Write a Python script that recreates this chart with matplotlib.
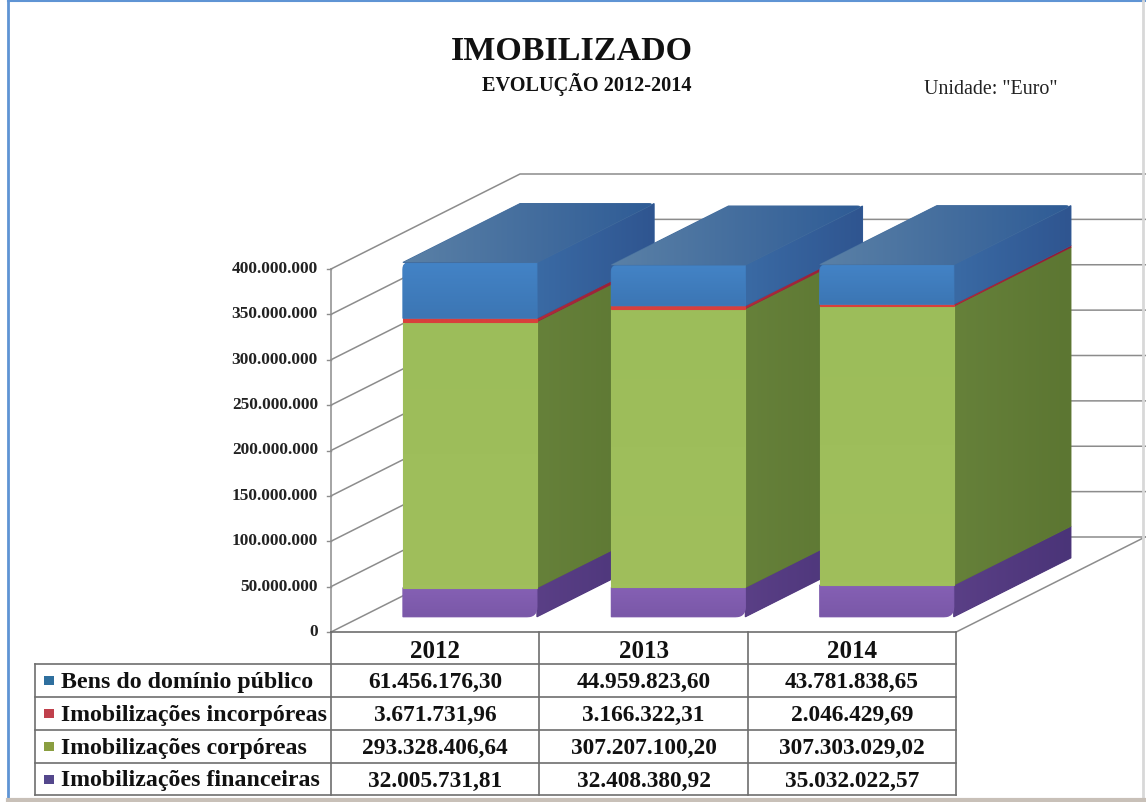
import matplotlib
matplotlib.use("Agg")
import matplotlib.pyplot as plt
import numpy as np
from matplotlib.colors import LinearSegmentedColormap
from matplotlib.patches import Polygon, Rectangle

plt.rcParams['font.family'] = ['Liberation Serif', 'DejaVu Serif']

years = ["2012", "2013", "2014"]
series = ["Bens do domínio público", "Imobilizações incorpóreas",
          "Imobilizações corpóreas", "Imobilizações financeiras"]
publico = [61456176.30, 44959823.60, 43781838.65]
incorporeas = [3671731.96, 3166322.31, 2046429.69]
corporeas = [293328406.64, 307207100.20, 307303029.02]
financeiras = [32005731.81, 32408380.92, 35032022.57]
axis_ticks = [0, 50000000, 100000000, 150000000, 200000000,
              250000000, 300000000, 350000000, 400000000]

# page geometry of the fake 3d box, in pixels
X0, Y0 = 331, 633
CAT_W = 208.4
PX_PER_VAL = 363 / 400000000
DEPTH_X, DEPTH_Y = 189, 95
BAR_LEFT, BAR_W = 0.2, 0.643
Z0, Z1 = 0.16, 0.78


def project(x, v, z):
    return (X0 + x * CAT_W + z * DEPTH_X, Y0 - v * PX_PER_VAL - z * DEPTH_Y)


def fmt_int(v):
    return f"{v:,.0f}".replace(",", ".")


def fmt_val(v):
    return f"{v:,.2f}".replace(",", "#").replace(".", ",").replace("#", ".")


def rounded(pts, corner, r=7):
    # swap one corner of a polygon for a short curve
    pts = [np.array(p, dtype=float) for p in pts]
    n = len(pts)
    c = pts[corner]
    a = pts[corner - 1]
    b = pts[(corner + 1) % n]
    a = c + (a - c) / np.linalg.norm(a - c) * r
    b = c + (b - c) / np.linalg.norm(b - c) * r
    curve = [(1 - t) ** 2 * a + 2 * t * (1 - t) * c + t ** 2 * b for t in np.linspace(0, 1, 8)]
    return pts[:corner] + curve + pts[corner + 1:]


fig = plt.figure(figsize=(11.46, 8.03), dpi=100)
ax = fig.add_axes([0, 0, 1, 1])
z_now = [2]


def shade(pts, c1, c2, angle="h"):
    pts = np.array(pts)
    cmap = LinearSegmentedColormap.from_list("s", [c1, c2])
    if angle == "h":
        grad = np.linspace(0, 1, 64).reshape(1, -1)
    else:
        grad = np.linspace(0, 1, 64).reshape(-1, 1)
    z_now[0] += 1
    # solid layer under the gradient so no seam shows between faces
    ax.add_patch(Polygon(pts, closed=True, fc=cmap(0.5), ec=cmap(0.5), lw=0.8, zorder=z_now[0]))
    extent = (pts[:, 0].min(), pts[:, 0].max(), pts[:, 1].max(), pts[:, 1].min())
    im = ax.imshow(grad, cmap=cmap, extent=extent, aspect="auto", zorder=z_now[0] + 0.5,
                   interpolation="bilinear")
    clip = Polygon(pts, closed=True, transform=ax.transData, fc="none", ec="none")
    ax.add_patch(clip)
    im.set_clip_path(clip)


# walls and floor
grid = "#8c8c8c"
for t in axis_ticks:
    p0 = project(0, t, 0)
    p1 = project(0, t, 1)
    p2 = project(3, t, 1)
    ax.plot([p0[0], p1[0], p2[0]], [p0[1], p1[1], p2[1]], color=grid, lw=1.1, zorder=1)
    ax.plot([p0[0] - 4, p0[0]], [p0[1], p0[1]], color=grid, lw=1, zorder=1)
    ax.text(p0[0] - 13, p0[1] - 1, fmt_int(t), ha="right", va="center",
            fontsize=12.4, fontweight="bold", color="#222222")
ax.plot([X0, X0], [project(0, 0, 0)[1], project(0, 400000000, 0)[1]], color=grid, lw=1.1, zorder=1)
a, b = project(3, 0, 0), project(3, 0, 1)
ax.plot([a[0], b[0]], [a[1], b[1]], color=grid, lw=1.1, zorder=1)

# colours per stack, bottom to top: front top, front bottom, side, side dark
faces = {
    "fin": ("#8560b4", "#7a58a8", "#5a3f86", "#4a3478"),
    "cor": ("#9cbd5a", "#a0bf5c", "#66813a", "#5c7632"),
    "inc": ("#d8403c", "#d8403c", "#b02c3c", "#8c1c38"),
    "pub": ("#4383c6", "#3c76b4", "#3a6aa4", "#2f5590"),
}
stacks = [("fin", financeiras), ("cor", corporeas), ("inc", incorporeas), ("pub", publico)]

for i in range(len(years)):
    left = i + BAR_LEFT
    right = left + BAR_W
    base = 0
    for key, vals in stacks:
        v = vals[i]
        top = base + v
        c1, c2, c3, c4 = faces[key]
        side = [project(right, base, Z0), project(right, top, Z0),
                project(right, top, Z1), project(right, base, Z1)]
        shade(side, c3, c4)
        front = [project(left, base, Z0), project(left, top, Z0),
                 project(right, top, Z0), project(right, base, Z0)]
        if key == "pub":
            front = rounded(front, 1)
        if key == "fin":
            front = rounded(front, 3, 10)
        shade(front, c1, c2, "v")
        base = top
    roof = [project(left, base, Z0), project(left, base, Z1),
            project(right, base, Z1), project(right, base, Z0)]
    shade(rounded(roof, 2, 6), "#5a80a6", "#2f5c96")

# table with the data
tab_left = 35
col_x = [X0 + k * CAT_W for k in range(4)]
row_y = [633, 665, 698, 731, 764, 796]
line = "#6e6e6e"
z_t = z_now[0] + 1
for k, y in enumerate(row_y):
    ax.plot([col_x[0] if k == 0 else tab_left, col_x[3]], [y, y], color=line, lw=1.2, zorder=z_t)
ax.plot([tab_left, tab_left], [row_y[1], row_y[5]], color=line, lw=1.2, zorder=z_t)
for x in col_x:
    ax.plot([x, x], [row_y[0], row_y[5]], color=line, lw=1.2, zorder=z_t)

for j, yr in enumerate(years):
    ax.text((col_x[j] + col_x[j + 1]) / 2, (row_y[0] + row_y[1]) / 2 + 3, yr, ha="center", va="center",
            fontsize=18, fontweight="bold", color="#111111", zorder=z_t)

key_cols = ["#2f6f9e", "#c0404c", "#8a9e40", "#54478c"]
rows = [publico, incorporeas, corporeas, financeiras]
for r, name in enumerate(series):
    yc = (row_y[r + 1] + row_y[r + 2]) / 2
    ax.add_patch(Rectangle((44, yc - 4.5), 10, 9, fc=key_cols[r], ec="none", zorder=z_t))
    ax.text(61, yc + 1, name, ha="left", va="center", fontsize=17.2, fontweight="bold", color="#111111", zorder=z_t)
    for j in range(3):
        ax.text((col_x[j] + col_x[j + 1]) / 2, yc + 1, fmt_val(rows[r][j]), ha="center", va="center",
                fontsize=16.8, fontweight="bold", color="#111111", zorder=z_t)

# headings
ax.text(572, 52, "IMOBILIZADO", ha="center", va="center", fontsize=24.5, fontweight="bold", color="#111111")
ax.text(587, 84, "EVOLUÇÃO 2012-2014", ha="center", va="center", fontsize=14.6, fontweight="bold", color="#111111")
ax.text(991, 90, 'Unidade: "Euro"', ha="center", va="center", fontsize=14.4, color="#222222")

# window frame of the screenshot
ax.plot([8, 8], [2, 803], color="#5f94d4", lw=2, zorder=z_t)
ax.plot([8, 1146], [2, 2], color="#5f94d4", lw=1.5, zorder=z_t)
ax.plot([1143, 1143], [2, 803], color="#d8d8d8", lw=2, zorder=z_t)
ax.plot([8, 1146], [801, 801], color="#c8c0b8", lw=3, zorder=z_t)

ax.set_xlim(0, 1146)
ax.set_ylim(803, 0)
ax.axis("off")
fig.savefig("out.png", dpi=100)
